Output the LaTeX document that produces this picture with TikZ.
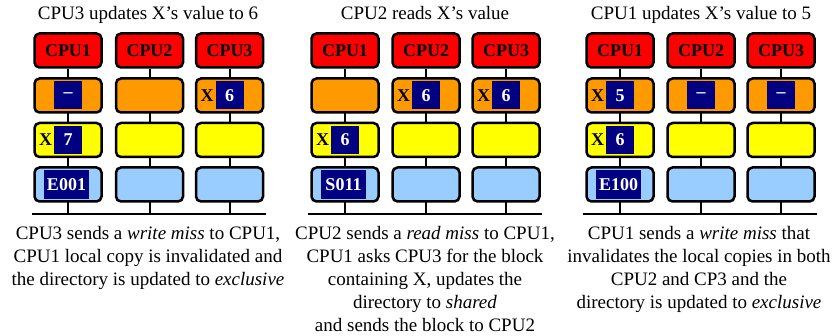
\documentclass[tikz,border=0pt]{standalone}
\usepackage{fontspec}
\setmainfont{Liberation Serif}
\definecolor{cpured}{RGB}{255,0,0}
\definecolor{cacheorange}{RGB}{255,153,0}
\definecolor{memyellow}{RGB}{255,255,0}
\definecolor{dirblue}{RGB}{153,204,255}
\definecolor{navyblue}{RGB}{0,0,128}
\pgfdeclarelayer{background}
\pgfsetlayers{background,main}
\begin{document}
\begin{tikzpicture}[x=1pt,y=-1pt,
  cell/.style={draw=black, line width=2.5pt, rounded corners=5pt, minimum width=67pt, minimum height=34pt, inner sep=0pt},
  cpu/.style={cell, fill=cpured, font=\fontsize{18}{18}\selectfont\bfseries},
  cache/.style={cell, fill=cacheorange},
  mem/.style={cell, fill=memyellow},
  dir/.style={cell, fill=dirblue},
  val/.style={fill=navyblue, minimum width=28pt, minimum height=28pt, inner sep=0pt, text=white, font=\fontsize{18}{18}\selectfont\bfseries},
  dirval/.style={fill=navyblue, minimum width=45pt, minimum height=29pt, inner sep=0pt, text=white, font=\fontsize{18}{18}\selectfont\bfseries},
  xlab/.style={anchor=east, inner sep=1.5pt, font=\fontsize{18}{18}\selectfont\bfseries},
  link/.style={line width=2pt},
  bus/.style={line width=2.5pt},
  title/.style={anchor=base, inner sep=0pt, font=\fontsize{19}{19}\selectfont},
  caption/.style={anchor=north, inner sep=0pt, align=center, font=\fontsize{19}{22.8}\selectfont}
]
\useasboundingbox (0,0) rectangle (837,336);

\foreach \p/\a/\b/\c/\l/\r in {1/68/149.5/229.5/32/266, 2/345/426/506/308/542, 3/620/701/781/583/817} {
  \coordinate (p\p-busL) at (\l,214);
  \coordinate (p\p-busR) at (\r,214);
  \draw[bus] (p\p-busL) -- (p\p-busR);
  \foreach \k/\x in {1/\a, 2/\b, 3/\c} {
    \node[cpu] (p\p-cpu\k) at (\x,50.5) {CPU\k};
    \node[cache] (p\p-cache\k) at (\x,95.5) {};
    \node[mem] (p\p-mem\k) at (\x,140) {};
    \node[dir] (p\p-dir\k) at (\x,184.5) {};
    \coordinate (p\p-tap\k) at (\x,214);
    \begin{pgfonlayer}{background}
      \draw[link] (p\p-cpu\k.south) -- (p\p-tap\k);
    \end{pgfonlayer}
  }
}

% Panel 1
\node[title] (t1) at (148,20) {CPU3 updates X’s value to 6};
\node[val] (p1-v1) at (p1-cache1) {–};
\node[val] (p1-v3) at (p1-cache3) {6};
\node[xlab] (p1-x3) at (p1-v3.west) {X};
\node[val] (p1-m1) at (p1-mem1) {7};
\node[xlab] (p1-xm1) at (p1-m1.west) {X};
\node[dirval] (p1-d1) at ([xshift=-1.5pt]p1-dir1.center) {E001};
\node[caption] (c1) at (148,226.5) {CPU3 sends a \textit{write miss} to CPU1,\\CPU1 local copy is invalidated and\\the directory is updated to \textit{exclusive}};

% Panel 2
\node[title] (t2) at (425,20) {CPU2 reads X’s value};
\node[val] (p2-v2) at (p2-cache2) {6};
\node[xlab] (p2-x2) at (p2-v2.west) {X};
\node[val] (p2-v3) at (p2-cache3) {6};
\node[xlab] (p2-x3) at (p2-v3.west) {X};
\node[val] (p2-m1) at (p2-mem1) {6};
\node[xlab] (p2-xm1) at (p2-m1.west) {X};
\node[dirval] (p2-d1) at ([xshift=-1.5pt]p2-dir1.center) {S011};
\node[caption] (c2) at (425,226.5) {CPU2 sends a \textit{read miss} to CPU1,\\CPU1 asks CPU3 for the block\\containing X, updates the\\directory to \textit{shared}\\and sends the block to CPU2};

% Panel 3
\node[title] (t3) at (701,20) {CPU1 updates X’s value to 5};
\node[val] (p3-v1) at (p3-cache1) {5};
\node[xlab] (p3-x1) at (p3-v1.west) {X};
\node[val] (p3-v2) at (p3-cache2) {–};
\node[val] (p3-v3) at (p3-cache3) {–};
\node[val] (p3-m1) at (p3-mem1) {6};
\node[xlab] (p3-xm1) at (p3-m1.west) {X};
\node[dirval] (p3-d1) at ([xshift=-1.5pt]p3-dir1.center) {E100};
\node[caption] (c3) at (699,226.5) {CPU1 sends a \textit{write miss} that\\invalidates the local copies in both\\CPU2 and CP3 and the\\directory is updated to \textit{exclusive}};
\end{tikzpicture}
\end{document}
